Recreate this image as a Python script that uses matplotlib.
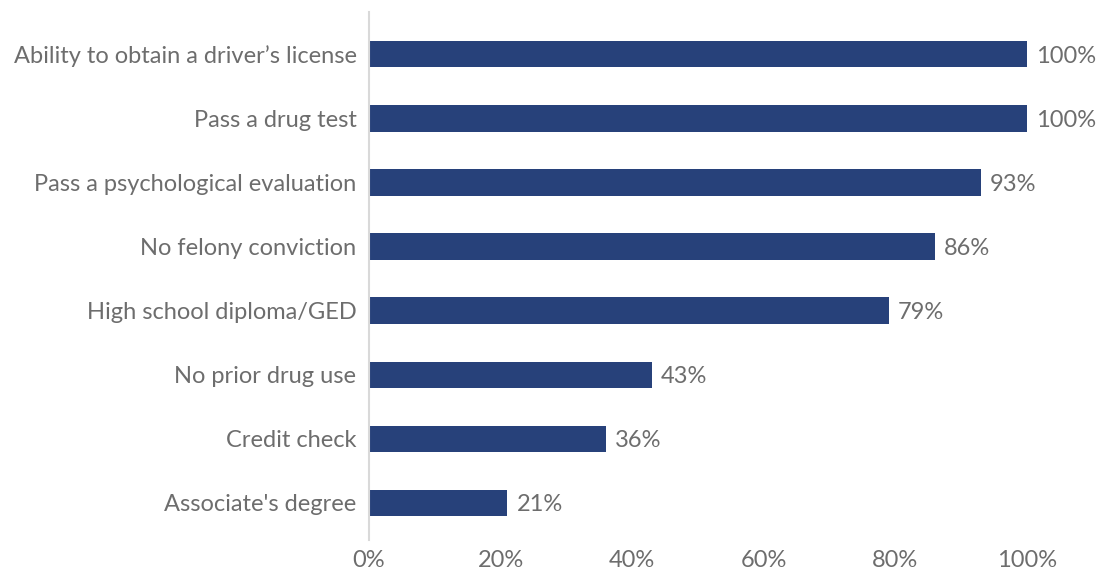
import matplotlib
matplotlib.use('Agg')
from matplotlib import pyplot as plt
from matplotlib.ticker import FuncFormatter
from matplotlib.transforms import ScaledTranslation

plt.rcParams['font.family'] = ['Lato', 'DejaVu Sans']

categories = [
    "Ability to obtain a driver\u2019s license",
    "Pass a drug test",
    "Pass a psychological evaluation",
    "No felony conviction",
    "High school diploma/GED",
    "No prior drug use",
    "Credit check",
    "Associate's degree",
]
values = [100, 100, 93, 86, 79, 43, 36, 21]
x_ticks = [0, 20, 40, 60, 80, 100]

text_color = '#6d6d6d'
bar_color = '#27417a'

W, H = 1104, 571
fig = plt.figure(figsize=(W / 100, H / 100), dpi=100)
ax = fig.add_axes([369 / W, 1 - 540 / H, (1027 - 369) / W, (540 - 12) / H])

y = list(range(len(categories)))
ax.barh(y, values, height=0.41, color=bar_color)
ax.set_xlim(0, 100)
ax.set_ylim(len(categories) - 1 + 0.58, -0.66)

for yi, v in zip(y, values):
    ax.text(v + 1.4, yi + 0.03, f"{v}%", va='center', ha='left', fontsize=17, color=text_color)

ax.set_yticks(y)
ax.set_yticklabels(categories, fontsize=17, color=text_color)
shift = ScaledTranslation(0, -2 / 100, fig.dpi_scale_trans)
for lbl in ax.get_yticklabels():
    lbl.set_transform(lbl.get_transform() + shift)
ax.set_xticks(x_ticks)
ax.xaxis.set_major_formatter(FuncFormatter(lambda v, p: f"{int(v)}%"))
ax.tick_params(axis='x', labelsize=17, labelcolor=text_color, length=0, pad=7)
ax.tick_params(axis='y', length=0, pad=9)

for s in ['top', 'right', 'bottom']:
    ax.spines[s].set_visible(False)
ax.spines['left'].set_color('#d9d9d9')
ax.spines['left'].set_linewidth(1.5)

fig.savefig('out.png', dpi=100)
